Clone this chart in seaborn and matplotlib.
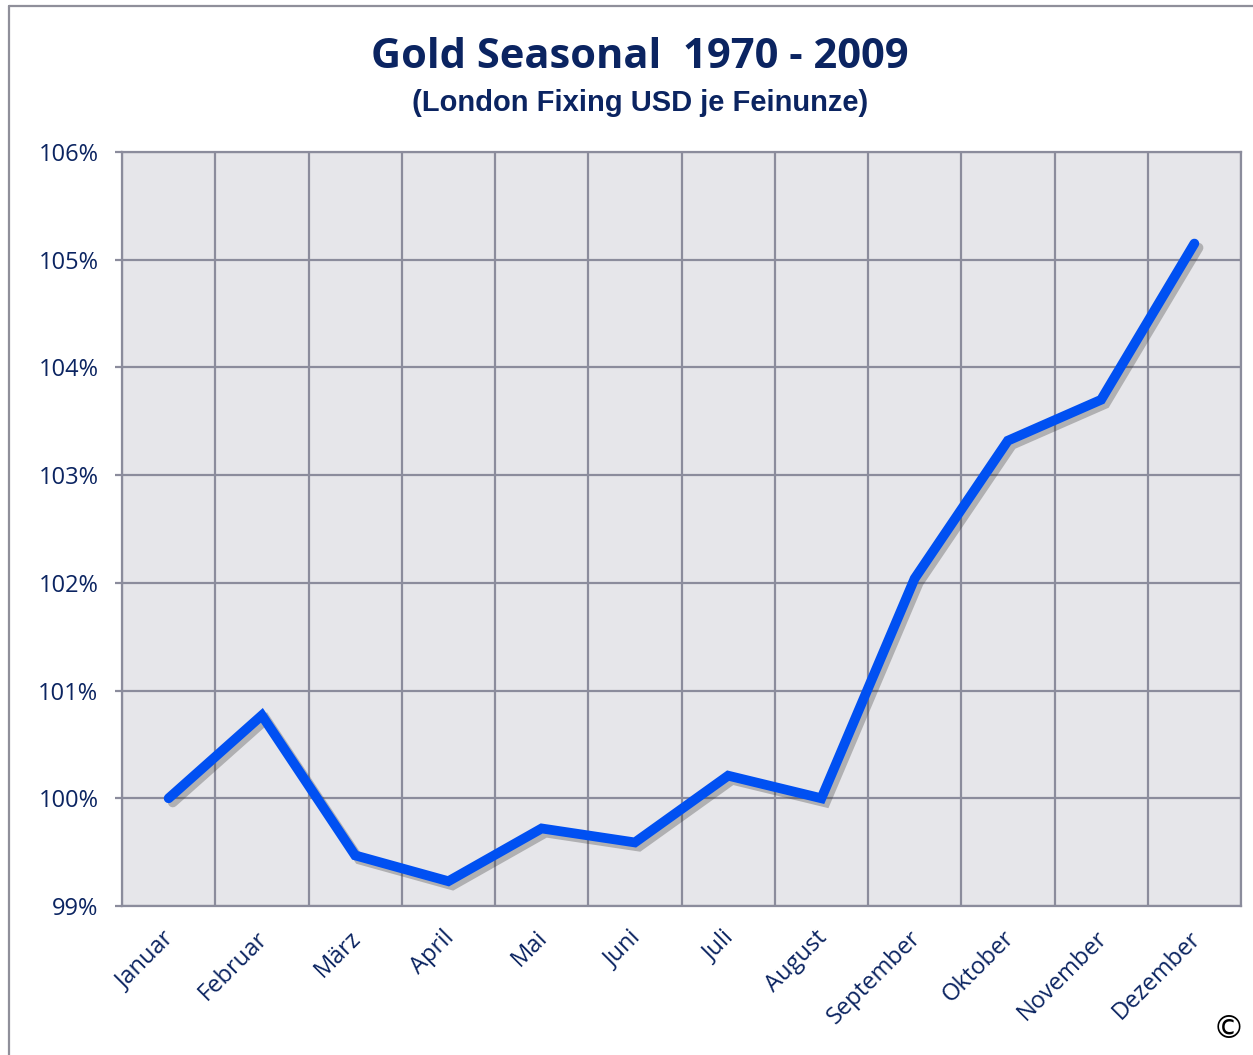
import matplotlib
matplotlib.use("Agg")
import matplotlib.pyplot as plt
import matplotlib.patheffects as pe
import matplotlib.transforms as mtransforms
import seaborn as sns
from matplotlib.ticker import FixedLocator, FuncFormatter

# data
months = ["Januar", "Februar", "März", "April", "Mai", "Juni", "Juli",
          "August", "September", "Oktober", "November", "Dezember"]
seasonal = [100.0, 100.77, 99.47, 99.23, 99.72, 99.59, 100.21,
            100.0, 102.04, 103.32, 103.70, 105.15]
y_ticks = [99, 100, 101, 102, 103, 104, 105, 106]

navy = "#0b2461"
grid_col = "#8b8c9c"

sns.set_style("white")
plt.rcParams["font.family"] = ["Open Sans", "DejaVu Sans"]

fig = plt.figure(figsize=(12.53, 10.55), dpi=100)
ax = fig.add_axes([122 / 1253, 149 / 1055, (1241 - 122) / 1253, (906 - 152) / 1055])
ax.set_facecolor("#e6e6ea")

sns.lineplot(x=months, y=seasonal, sort=False, ax=ax, color="#0050f2",
             linewidth=7, solid_capstyle="round", solid_joinstyle="miter",
             path_effects=[pe.SimpleLineShadow(offset=(3, -3), shadow_color="#333333", alpha=0.3),
                           pe.Normal()], zorder=5)

ax.set_xlim(-0.5, len(months) - 0.5)
ax.set_ylim(99, 106)
ax.yaxis.set_major_locator(FixedLocator(y_ticks))
ax.yaxis.set_major_formatter(FuncFormatter(lambda v, p: f"{v:.0f}%"))
ax.xaxis.set_minor_locator(FixedLocator([i - 0.5 for i in range(len(months) + 1)]))

ax.grid(True, which="major", axis="y", color=grid_col, linewidth=1.6)
ax.grid(True, which="minor", axis="x", color=grid_col, linewidth=1.6)
ax.grid(False, which="major", axis="x")
ax.set_axisbelow(True)
for s in ax.spines.values():
    s.set_color(grid_col)
    s.set_linewidth(1.6)

ax.tick_params(axis="y", which="major", length=5, width=1.6, color=grid_col,
               labelsize=17, labelcolor=navy, pad=12, left=True)
ax.tick_params(axis="x", which="both", length=0, labelsize=17, labelcolor=navy, pad=16)
shift = mtransforms.ScaledTranslation(-6 / 100, 2 / 100, fig.dpi_scale_trans)
for lbl in ax.get_xticklabels():
    lbl.set_rotation(45)
    lbl.set_ha("right")
    lbl.set_va("top")
    lbl.set_rotation_mode("anchor")
    lbl.set_transform(lbl.get_transform() + shift)

ax.set_xlabel("")
ax.set_ylabel("")

fig.text(0.511, 1 - 58 / 1055, "Gold Seasonal  1970 - 2009", ha="center", va="center",
         fontsize=30, fontweight="bold", color=navy, family=["Open Sans", "DejaVu Sans"])
fig.text(0.511, 1 - 103 / 1055, "(London Fixing USD je Feinunze)", ha="center", va="center",
         fontsize=21, fontweight="bold", color=navy, family=["Liberation Sans", "DejaVu Sans"])
fig.text(1229 / 1253, 1 - 1029 / 1055, "©", ha="center", va="center",
         fontsize=23, color="black", family=["DejaVu Sans"])

# outer frame of the chart (cut at right and bottom)
fig.add_artist(plt.Line2D([9 / 1253, 9 / 1253], [0, 1 - 6 / 1055], color="#8f8f9a",
                          linewidth=1.6, transform=fig.transFigure))
fig.add_artist(plt.Line2D([9 / 1253, 1], [1 - 6 / 1055, 1 - 6 / 1055], color="#8f8f9a",
                          linewidth=1.6, transform=fig.transFigure))

fig.savefig("out.png", dpi=100)
